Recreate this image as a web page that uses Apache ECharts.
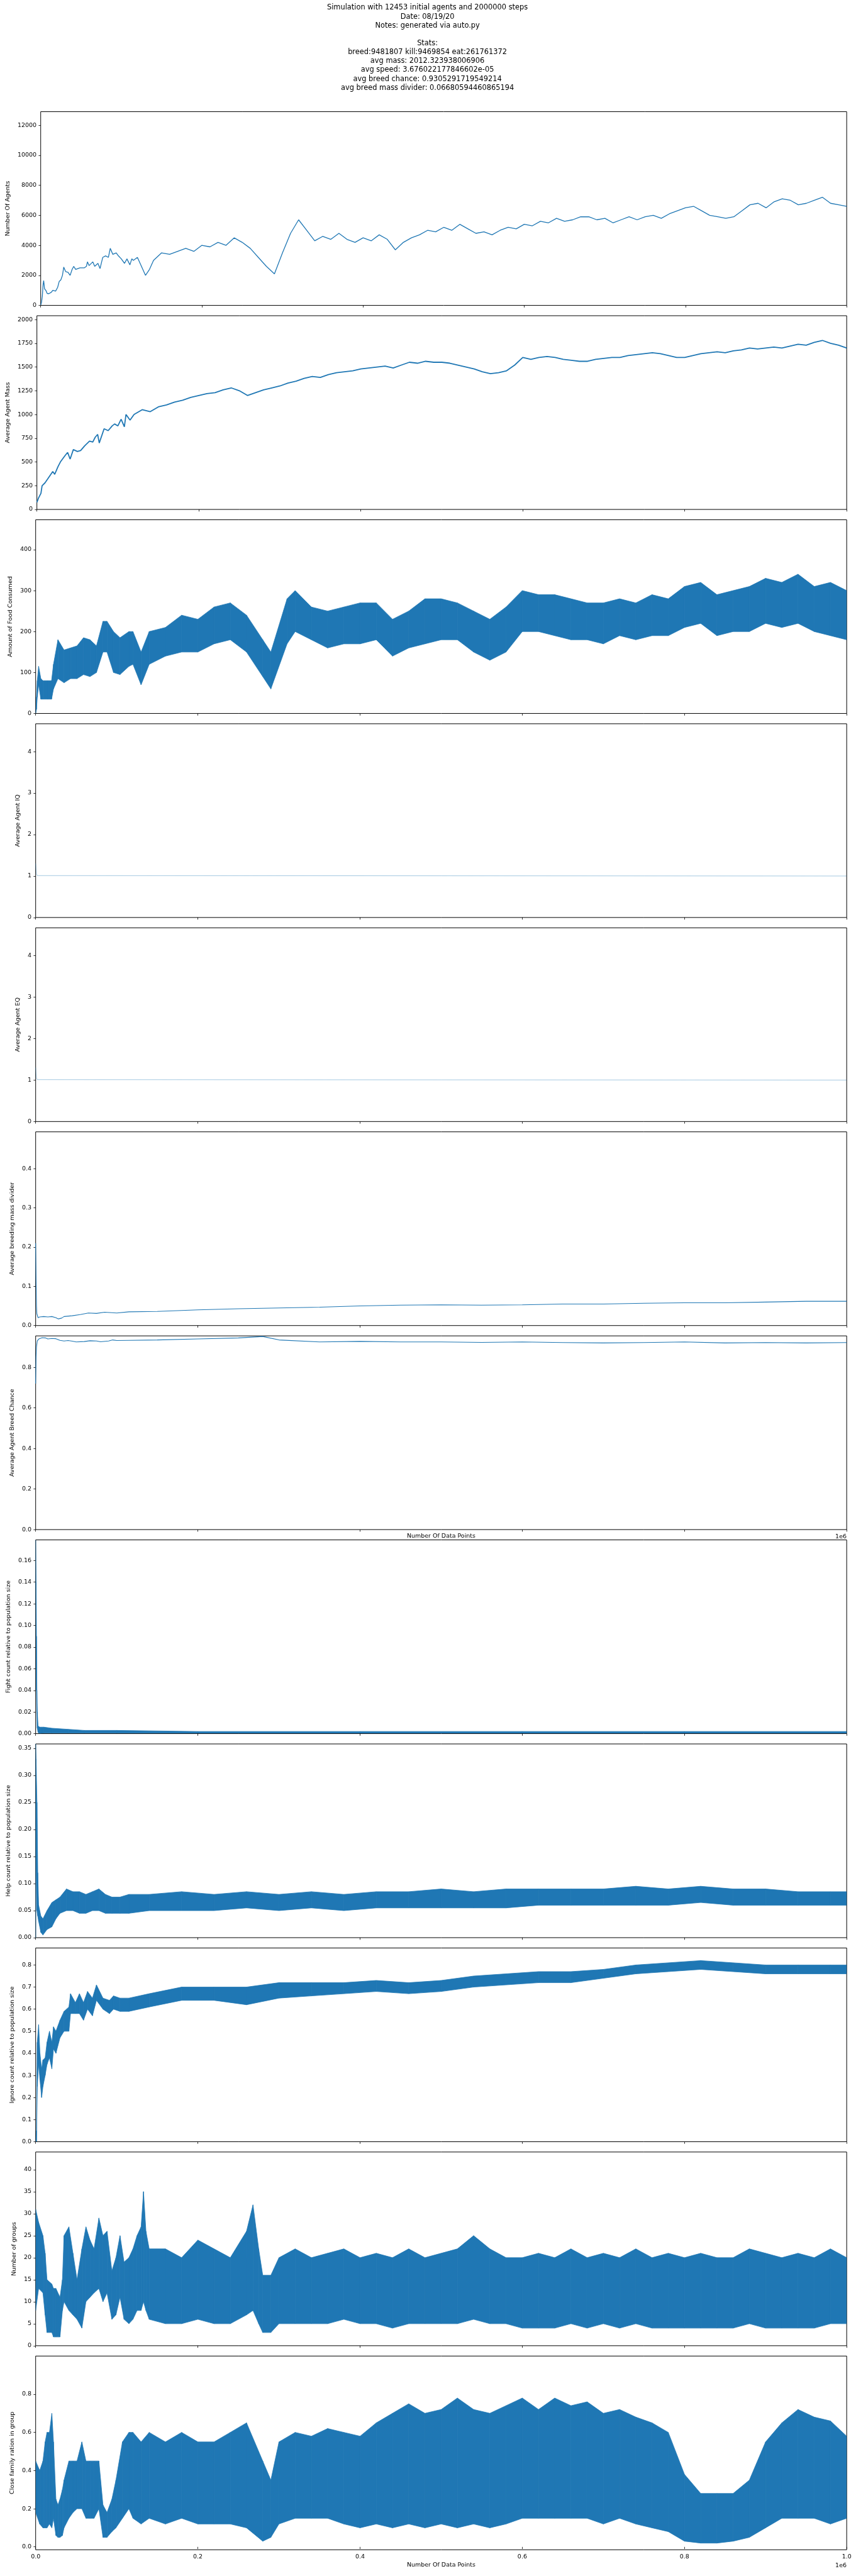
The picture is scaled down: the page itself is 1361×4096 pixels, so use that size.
<!DOCTYPE html>
<html>
<head>
<meta charset="utf-8">
<script src="https://cdn.jsdelivr.net/npm/echarts@6/dist/echarts.min.js"></script>
<style>html,body{margin:0;padding:0;background:#fff}#c{width:1361px;height:4096px}</style>
</head>
<body>
<div id="c"></div>
<script>
// ---------------- DATA (x in units of 1e6 data points) ----------------
const titleLines = [
  "Simulation with 12453 initial agents and 2000000 steps",
  "Date: 08/19/20",
  "Notes: generated via auto.py",
  "",
  "Stats:",
  "breed:9481807 kill:9469854 eat:261761372",
  "avg mass: 2012.323938006906",
  "avg speed: 3.676022177846602e-05",
  "avg breed chance: 0.9305291719549214",
  "avg breed mass divider: 0.06680594460865194"
];
const xTicks = [0, 0.2, 0.4, 0.6, 0.8, 1.0];

const agentTicks = [0, 2000, 4000, 6000, 8000, 10000, 12000];
const agentsX = [0,0.001,0.002,0.003,0.0037,0.0048,0.0064,0.008,0.010,0.013,0.015,0.0185,0.0196,0.021,0.023,0.025,0.027,0.0286,0.031,0.034,0.0365,0.039,0.041,0.0434,0.0487,0.054,0.0567,0.058,0.06,0.0646,0.067,0.071,0.0736,0.077,0.0805,0.084,0.0863,0.0895,0.0937,0.0964,0.1,0.104,0.107,0.1107,0.113,0.115,
 0.12,0.125,0.13,0.135,0.14,0.15,0.16,0.17,0.18,0.19,0.2,0.21,0.22,0.23,0.24,0.25,0.26,0.27,0.28,0.29,0.3,0.31,0.32,0.33,0.34,0.35,0.36,0.37,0.38,0.39,0.4,0.41,0.42,0.43,0.44,0.45,0.46,0.47,0.48,0.49,0.5,0.51,0.52,0.53,0.54,0.55,0.56,0.57,0.58,0.59,0.6,0.61,0.62,0.63,0.64,0.65,0.66,0.67,0.68,0.69,0.7,0.71,0.72,0.73,0.74,0.75,0.76,0.77,0.78,0.79,0.8,0.81,0.82,0.83,0.84,0.85,0.86,0.87,0.88,0.89,0.9,0.91,0.92,0.93,0.94,0.95,0.96,0.97,0.98,0.99,1.0];
const agentsY = [30,200,600,1400,1650,1100,1000,800,780,870,1000,950,900,1200,1600,1700,2000,2550,2250,2200,2000,2400,2600,2400,2500,2500,2600,2900,2650,2900,2600,2800,2450,3200,3300,3200,3800,3400,3500,3300,3100,2800,3100,2700,3100,3000,
 3200,2600,2000,2400,3000,3500,3400,3600,3800,3600,4000,3900,4200,4000,4500,4200,3800,3200,2600,2100,3500,4800,5700,5000,4300,4600,4400,4800,4400,4200,4500,4300,4700,4400,3700,4200,4500,4700,5000,4900,5200,5000,5400,5100,4800,4900,4700,5000,5200,5100,5400,5300,5600,5500,5800,5600,5700,5900,5900,5700,5800,5500,5700,5900,5700,5900,6000,5800,6100,6300,6500,6600,6300,6000,5900,5800,5900,6300,6700,6800,6500,6900,7100,7000,6700,6800,7000,7200,6800,6700,6600];

const massTicks = [0, 250, 500, 750, 1000, 1250, 1500, 1750, 2000];
const massX = [0,0.002,0.005,0.0064,0.01,0.014,0.0196,0.022,0.026,0.029,0.035,0.038,0.041,0.045,0.05,0.054,0.059,0.065,0.069,0.072,0.075,0.077,0.083,0.088,0.093,0.096,0.1,0.104,0.108,0.11,0.115,
 0.12,0.13,0.14,0.15,0.16,0.17,0.18,0.19,0.2,0.21,0.22,0.23,0.24,0.25,0.26,0.27,0.28,0.29,0.3,0.31,0.32,0.33,0.34,0.35,0.36,0.37,0.38,0.39,0.4,0.41,0.42,0.43,0.44,0.45,0.46,0.47,0.48,0.49,0.5,0.51,0.52,0.53,0.54,0.55,0.56,0.57,0.58,0.59,0.6,0.61,0.62,0.63,0.64,0.65,0.66,0.67,0.68,0.69,0.7,0.71,0.72,0.73,0.74,0.75,0.76,0.77,0.78,0.79,0.8,0.81,0.82,0.83,0.84,0.85,0.86,0.87,0.88,0.89,0.9,0.91,0.92,0.93,0.94,0.95,0.96,0.97,0.98,0.99,1.0];
const massY = [75,120,170,250,280,330,400,370,450,500,570,600,530,630,610,620,670,720,710,760,790,700,850,830,880,900,880,950,870,1000,940,
 1000,1050,1030,1080,1100,1130,1150,1180,1200,1220,1230,1260,1280,1250,1200,1230,1260,1280,1300,1330,1350,1380,1400,1390,1420,1440,1450,1460,1480,1490,1500,1510,1490,1520,1550,1540,1560,1550,1550,1540,1520,1500,1480,1450,1430,1440,1460,1520,1600,1580,1600,1610,1600,1580,1570,1560,1560,1580,1590,1600,1600,1620,1630,1640,1650,1640,1620,1600,1600,1620,1640,1650,1660,1650,1670,1680,1700,1690,1700,1710,1700,1720,1740,1730,1760,1780,1750,1730,1700];

const foodTicks = [0, 100, 200, 300, 400];
const foodX  = [0,0.001,0.002,0.0037,0.0064,0.009,0.015,0.0196,0.022,0.0275,0.035,0.043,0.051,0.059,0.067,0.075,0.083,0.088,0.096,0.104,0.115,0.12,0.13,0.14,0.16,0.18,0.2,0.22,0.24,0.26,0.28,0.29,0.31,0.32,0.34,0.36,0.38,0.4,0.42,0.44,0.46,0.48,0.5,0.52,0.54,0.56,0.58,0.6,0.62,0.64,0.66,0.68,0.7,0.72,0.74,0.76,0.78,0.8,0.82,0.84,0.86,0.88,0.9,0.92,0.94,0.96,0.98,1.0];
const foodHi = [2,40,80,115,85,80,80,80,120,180,155,160,165,185,180,165,225,225,200,185,200,200,150,200,210,240,230,260,270,240,180,150,280,300,260,250,260,270,270,230,250,280,280,270,250,230,260,300,290,290,280,270,270,280,270,290,280,310,320,290,300,310,330,320,340,310,320,300];
const foodLo = [0,10,40,70,35,35,35,35,60,85,75,85,85,95,90,100,150,150,100,95,115,120,70,120,140,150,150,170,180,150,90,60,170,200,180,160,170,170,180,140,160,170,180,180,150,130,150,200,200,190,180,180,170,190,180,190,190,210,220,190,200,200,220,210,220,200,190,180];

const iqTicks = [0, 1, 2, 3, 4];
const iqX = [0, 0.0005, 0.001, 0.002, 0.003, 1.0];
const iqY = [1.3, 1.15, 1.05, 1.01, 1.0, 1.0];
const eqX = [0, 0.0005, 0.001, 0.002, 0.003, 1.0];
const eqY = [1.3, 1.15, 1.05, 1.01, 1.0, 1.0];

const bmdTicks = [0, 0.1, 0.2, 0.3, 0.4];
const bmdX = [0,0.0005,0.001,0.0015,0.002,0.003,0.005,0.01,0.015,0.02,0.025,0.028,0.032,0.035,0.045,0.055,0.065,0.075,0.085,0.1,0.115,0.15,0.2,0.25,0.3,0.35,0.4,0.45,0.5,0.55,0.6,0.65,0.7,0.75,0.8,0.85,0.9,0.95,1.0];
const bmdY = [0.21,0.12,0.05,0.03,0.028,0.02,0.022,0.023,0.022,0.023,0.02,0.017,0.019,0.023,0.025,0.028,0.032,0.031,0.034,0.032,0.035,0.036,0.04,0.043,0.045,0.047,0.05,0.052,0.053,0.052,0.053,0.055,0.055,0.057,0.058,0.058,0.06,0.062,0.062];

const bcTicks = [0, 0.2, 0.4, 0.6, 0.8];
const bcX = [0,0.0005,0.001,0.002,0.004,0.008,0.012,0.015,0.02,0.025,0.03,0.035,0.04,0.045,0.05,0.06,0.067,0.075,0.08,0.09,0.095,0.1,0.115,0.15,0.2,0.25,0.28,0.3,0.35,0.4,0.45,0.5,0.55,0.6,0.65,0.7,0.75,0.8,0.85,0.9,0.95,1.0];
const bcY = [0.72,0.85,0.9,0.93,0.94,0.946,0.945,0.94,0.942,0.941,0.933,0.93,0.932,0.929,0.925,0.927,0.931,0.93,0.926,0.93,0.935,0.932,0.933,0.935,0.94,0.945,0.952,0.935,0.925,0.928,0.925,0.925,0.923,0.925,0.922,0.92,0.922,0.925,0.92,0.922,0.92,0.922];

const fightTicks = [0, 0.02, 0.04, 0.06, 0.08, 0.10, 0.12, 0.14, 0.16];
const fightX  = [0,0.0005,0.001,0.0015,0.002,0.003,0.005,0.01,0.02,0.04,0.06,0.1,0.2,0.4,0.6,0.8,1.0];
const fightHi = [0.18,0.14,0.09,0.04,0.02,0.007,0.006,0.006,0.005,0.004,0.003,0.003,0.002,0.002,0.002,0.002,0.002];
const fightLo = [0.14,0.09,0.04,0.02,0.005,0.001,0.0,0.0005,0.0005,0.0005,0.0005,0.0005,0.0004,0.0004,0.0004,0.0004,0.0004];

const helpTicks = [0, 0.05, 0.10, 0.15, 0.20, 0.25, 0.30, 0.35];
const helpX  = [0,0.0005,0.0016,0.0026,0.0037,0.0064,0.009,0.014,0.02,0.025,0.03,0.038,0.046,0.054,0.062,0.07,0.078,0.086,0.094,0.104,0.115,0.14,0.18,0.22,0.26,0.3,0.34,0.38,0.42,0.46,0.5,0.54,0.58,0.62,0.66,0.7,0.74,0.78,0.82,0.86,0.9,0.94,0.98,1.0];
const helpHi = [0.36,0.33,0.25,0.12,0.06,0.04,0.035,0.05,0.065,0.07,0.075,0.09,0.085,0.085,0.08,0.085,0.09,0.08,0.075,0.075,0.08,0.08,0.085,0.08,0.085,0.08,0.085,0.08,0.085,0.085,0.09,0.085,0.09,0.09,0.09,0.09,0.095,0.09,0.095,0.09,0.09,0.085,0.085,0.085];
const helpLo = [0.0,0.15,0.05,0.04,0.03,0.01,0.005,0.015,0.02,0.035,0.045,0.05,0.05,0.045,0.045,0.05,0.05,0.045,0.045,0.045,0.045,0.05,0.05,0.05,0.055,0.05,0.055,0.05,0.055,0.055,0.055,0.055,0.055,0.06,0.06,0.06,0.06,0.06,0.065,0.06,0.06,0.06,0.06,0.06];

const ignTicks = [0, 0.1, 0.2, 0.3, 0.4, 0.5, 0.6, 0.7, 0.8];
const ignX  = [0,0.001,0.002,0.0037,0.0053,0.0074,0.009,0.0117,0.014,0.017,0.02,0.022,0.025,0.03,0.035,0.041,0.043,0.049,0.054,0.059,0.064,0.07,0.075,0.083,0.091,0.096,0.104,0.115,0.14,0.18,0.22,0.26,0.3,0.34,0.38,0.42,0.46,0.5,0.54,0.58,0.62,0.66,0.7,0.74,0.78,0.82,0.86,0.9,0.94,0.98,1.0];
const ignHi = [0.0,0.05,0.45,0.53,0.4,0.33,0.37,0.38,0.45,0.5,0.45,0.52,0.5,0.55,0.59,0.61,0.67,0.63,0.67,0.63,0.68,0.65,0.71,0.65,0.64,0.66,0.65,0.65,0.67,0.7,0.7,0.7,0.72,0.72,0.72,0.73,0.72,0.73,0.75,0.76,0.77,0.77,0.78,0.8,0.81,0.82,0.81,0.8,0.8,0.8,0.8];
const ignLo = [0.0,0.0,0.25,0.35,0.28,0.2,0.25,0.3,0.35,0.38,0.33,0.42,0.4,0.47,0.5,0.5,0.58,0.58,0.58,0.55,0.6,0.57,0.64,0.6,0.58,0.6,0.59,0.59,0.61,0.64,0.64,0.62,0.65,0.66,0.67,0.68,0.67,0.68,0.7,0.71,0.72,0.72,0.74,0.76,0.77,0.78,0.77,0.76,0.76,0.76,0.76];

const grpTicks = [0, 5, 10, 15, 20, 25, 30, 35, 40];
const grpX  = [0,0.0037,0.009,0.0117,0.014,0.02,0.022,0.025,0.03,0.033,0.035,0.041,0.046,0.051,0.057,0.062,0.067,0.072,0.078,0.083,0.088,0.094,0.099,0.104,0.109,0.115,
 0.12,0.125,0.13,0.133,0.136,0.14,0.16,0.18,0.2,0.22,0.24,0.26,0.268,0.275,0.28,0.29,0.3,0.32,0.34,0.36,0.38,0.4,0.42,0.44,0.46,0.48,0.5,0.52,0.54,0.56,0.58,0.6,0.62,0.64,0.66,0.68,0.7,0.72,0.74,0.76,0.78,0.8,0.82,0.84,0.86,0.88,0.9,0.92,0.94,0.96,0.98,1.0];
const grpHi = [31,28,25,21,15,14,13,13,11,15,25,27,21,15,22,27,24,22,29,25,26,17,20,25,19,20,
 22,25,27,35,26,22,22,20,24,22,20,26,32,22,16,16,20,22,20,21,22,20,21,20,22,20,21,22,25,22,20,20,21,20,22,20,21,20,22,20,21,20,21,20,20,22,21,20,21,20,22,20];
const grpLo = [8,13,12,7,3,3,2,2,2,8,10,8,7,6,4,10,11,12,13,10,12,6,7,11,6,5,
 6,8,8,10,8,6,5,5,6,5,5,7,8,5,3,3,5,5,5,5,6,5,5,4,5,5,5,5,6,5,5,4,4,4,5,4,5,4,5,4,4,4,4,4,4,5,4,4,4,4,5,5];

const famTicks = [0, 0.2, 0.4, 0.6, 0.8];
const famX  = [0,0.005,0.009,0.0117,0.014,0.017,0.02,0.022,0.025,0.0275,0.03,0.033,0.035,0.041,0.046,0.051,0.057,0.062,0.067,0.072,0.078,0.083,0.088,0.094,0.099,0.107,0.115,
 0.12,0.13,0.14,0.16,0.18,0.2,0.22,0.24,0.26,0.28,0.29,0.3,0.32,0.34,0.36,0.38,0.4,0.42,0.44,0.46,0.48,0.5,0.52,0.54,0.56,0.58,0.6,0.62,0.64,0.66,0.68,0.7,0.72,0.74,0.76,0.78,0.8,0.82,0.84,0.86,0.88,0.9,0.92,0.94,0.96,0.98,1.0];
const famHi = [0.45,0.4,0.45,0.55,0.6,0.6,0.7,0.55,0.25,0.22,0.25,0.3,0.35,0.45,0.45,0.45,0.55,0.45,0.45,0.45,0.45,0.22,0.18,0.25,0.35,0.55,0.6,
 0.6,0.55,0.6,0.55,0.6,0.55,0.55,0.6,0.65,0.45,0.35,0.55,0.6,0.58,0.62,0.6,0.58,0.65,0.7,0.75,0.7,0.72,0.78,0.72,0.7,0.74,0.78,0.72,0.78,0.74,0.76,0.7,0.72,0.68,0.65,0.6,0.38,0.28,0.28,0.28,0.35,0.55,0.65,0.72,0.68,0.66,0.58];
const famLo = [0.18,0.12,0.1,0.1,0.1,0.12,0.1,0.15,0.06,0.05,0.05,0.06,0.1,0.15,0.18,0.2,0.2,0.15,0.15,0.15,0.2,0.05,0.05,0.08,0.1,0.15,0.2,
 0.15,0.12,0.15,0.12,0.15,0.12,0.12,0.12,0.1,0.03,0.05,0.12,0.15,0.15,0.15,0.12,0.1,0.12,0.1,0.12,0.1,0.12,0.1,0.12,0.1,0.12,0.15,0.15,0.15,0.15,0.15,0.12,0.15,0.12,0.1,0.08,0.03,0.02,0.02,0.03,0.05,0.1,0.15,0.15,0.15,0.12,0.15];

// ---------------- LAYOUT / STYLE ----------------
const S = 0.683;
const FONT = 'DejaVu Sans';
const BLUE = '#1f77b4';
const GRID_LEFT = 83 * S, GRID_W = (1971 - 83) * S;
const TOP0 = 260 * S, PITCH = 475 * S, H = 451 * S;
const FS = 13.9 * S;

const panels = [
  {label:'Number Of Agents', min:0, max:12900, ticks:agentTicks, dec:0, gap:41, kind:'line', lw:1.3, x:agentsX, y:agentsY},
  {label:'Average Agent Mass', min:0, max:2040, ticks:massTicks, dec:0, gap:34, kind:'line', lw:1.8, x:massX, y:massY},
  {label:'Amount of Food Consumed', min:0, max:473, ticks:foodTicks, dec:0, gap:29, kind:'band', x:foodX, lo:foodLo, hi:foodHi},
  {label:'Average Agent IQ', min:0, max:4.67, ticks:iqTicks, dec:0, gap:16, kind:'faint', lw:1, x:iqX, y:iqY},
  {label:'Average Agent EQ', min:0, max:4.67, ticks:iqTicks, dec:0, gap:16, kind:'faint', lw:1, x:eqX, y:eqY},
  {label:'Average breeding mass divider', min:0, max:0.494, ticks:bmdTicks, dec:1, gap:26, kind:'line', lw:1.1, x:bmdX, y:bmdY},
  {label:'Average Agent Breed Chance', min:0, max:0.955, ticks:bcTicks, dec:1, gap:26, kind:'line', lw:1.1, x:bcX, y:bcY, xname:true},
  {label:'Fight count relative to population size', min:0, max:0.179, ticks:fightTicks, dec:2, gap:32, kind:'band', x:fightX, lo:fightLo, hi:fightHi},
  {label:'Help count relative to population size', min:0, max:0.358, ticks:helpTicks, dec:2, gap:32, kind:'band', x:helpX, lo:helpLo, hi:helpHi},
  {label:'Ignore count relative to population size', min:0, max:0.877, ticks:ignTicks, dec:1, gap:26, kind:'band', x:ignX, lo:ignLo, hi:ignHi},
  {label:'Number of groups', min:0, max:44, ticks:grpTicks, dec:0, gap:22, kind:'band', x:grpX, lo:grpLo, hi:grpHi},
  {label:'Close family ration in group', min:-0.015, max:1.0, ticks:famTicks, dec:1, gap:26, kind:'band', x:famX, lo:famLo, hi:famHi, bottom:true}
];

// band drawn as a chain of quads between consecutive (x, lo, hi) samples
function bandRender(params, api) {
  const k = params.dataIndexInside;
  if (k >= params.dataInsideLength - 1) return null;
  const x0 = api.value(0, k), lo0 = api.value(1, k), hi0 = api.value(2, k);
  const x1 = api.value(0, k + 1), lo1 = api.value(1, k + 1), hi1 = api.value(2, k + 1);
  const pts = [api.coord([x0, hi0]), api.coord([x1, hi1]), api.coord([x1, lo1]), api.coord([x0, lo0])];
  const cs = params.coordSys;
  return {type:'polygon', shape:{points:pts},
    clipPath:{type:'rect', shape:{x:cs.x, y:cs.y, width:cs.width, height:cs.height}},
    style:{fill:BLUE, stroke:BLUE, lineWidth:0.8}};
}

const grids = [], xAxes = [], yAxes = [], series = [];
const tickStyle = {show:true, inside:false, length:4.86*S, lineStyle:{color:'#000', width:0.8}};
panels.forEach((p, i) => {
  grids.push({left:GRID_LEFT, width:GRID_W, top:TOP0 + i*PITCH, height:H, show:true, borderColor:'#000', borderWidth:1, backgroundColor:'transparent'});
  const xa = {type:'value', gridIndex:i, min:0, max:1, axisLine:{show:false}, splitLine:{show:false},
    axisTick:Object.assign({customValues:xTicks}, tickStyle),
    axisLabel:{show:!!p.bottom, customValues:xTicks, formatter:v=>v.toFixed(1), fontFamily:FONT, fontSize:FS, color:'#000', margin:4.86*S*2}};
  if (p.bottom || p.xname) {
    xa.name = 'Number Of Data Points'; xa.nameLocation = 'middle';
    xa.nameGap = p.bottom ? 20 : 6;
    xa.nameTextStyle = {fontFamily:FONT, fontSize:FS, color:'#000', verticalAlign:'top'};
  }
  xAxes.push(xa);
  yAxes.push({type:'value', gridIndex:i, min:p.min, max:p.max, axisLine:{show:false}, splitLine:{show:false},
    axisTick:Object.assign({customValues:p.ticks}, tickStyle),
    axisLabel:{customValues:p.ticks, formatter:v=>v.toFixed(p.dec), fontFamily:FONT, fontSize:FS, color:'#000', margin:4.86*S*2},
    name:p.label, nameLocation:'middle', nameRotate:90, nameGap:p.gap,
    nameTextStyle:{fontFamily:FONT, fontSize:FS, color:'#000'}});
  if (p.kind === 'band') {
    series.push({type:'custom', xAxisIndex:i, yAxisIndex:i, silent:true, clip:true,
      encode:{x:0, y:[1,2]}, renderItem:bandRender,
      data:p.x.map((x,k)=>[x, p.lo[k], p.hi[k]])});
  } else {
    series.push({type:'line', xAxisIndex:i, yAxisIndex:i, symbol:'none', silent:true,
      lineStyle:{width:p.lw, color:BLUE, opacity: p.kind==='faint' ? 0.4 : 1},
      data:p.x.map((x,k)=>[x, p.y[k]])});
  }
});

const chart = echarts.init(document.getElementById('c'), null, {renderer:'canvas'});
chart.setOption({
  animation:false,
  backgroundColor:'#fff',
  grid:grids, xAxis:xAxes, yAxis:yAxes, series:series,
  graphic:[
    {type:'text', x:995*S, y:8*S, style:{text:titleLines.join('\n'), align:'center', verticalAlign:'top',
      fontFamily:FONT, fontSize:16.7*S, lineHeight:20.7*S, fill:'#000'}},
    {type:'text', right:15, top:(5936+30)*S, style:{text:'1e6', fontFamily:FONT, fontSize:FS, fill:'#000'}},
    {type:'text', right:15, top:(3561+10)*S, style:{text:'1e6', fontFamily:FONT, fontSize:FS, fill:'#000'}}
  ]
});
</script>
</body>
</html>
